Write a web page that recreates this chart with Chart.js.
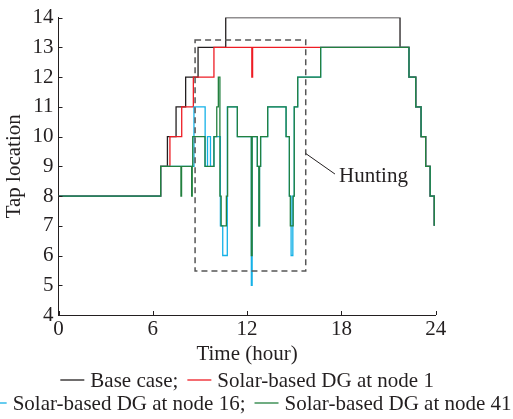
<!DOCTYPE html>
<html>
<head>
<meta charset="utf-8">
<script src="https://cdn.jsdelivr.net/npm/chart.js@4.4.1/dist/chart.umd.min.js"></script>
<style>
  html, body { margin: 0; padding: 0; background: #fff; }
  .chart-container { position: relative; width: 513px; height: 419px; }
</style>
</head>
<body>
<div class="chart-container">
  <canvas id="tapChart" width="513" height="419"></canvas>
</div>
<script>
// tap position steps: [time (hour), tap]
const endSteps = [[22.30, 12], [22.73, 11], [23.07, 10], [23.36, 9], [23.65, 8], [23.91, 7]]

const baseCase = [[0, 8], [6.50, 9], [6.93, 10], [7.48, 11], [8.09, 12], [8.88, 13], [10.64, 14], [21.73, 13]]

const dgNode1 = [[0, 8], [6.50, 9], [7.09, 10], [7.84, 11], [8.58, 12], [9.89, 13], [12.30, 12], [12.35, 13]]

const dgNode16 = [[0, 8], [6.50, 9], [8.62, 11], [9.33, 9], [9.48, 10], [9.67, 9], [9.89, 10],
  [10.30, 7], [10.45, 6], [10.74, 11], [11.38, 10], [12.27, 5], [12.32, 10], [12.65, 9],
  [12.75, 7], [12.79, 9], [12.86, 10], [13.31, 11], [14.48, 10], [14.69, 8], [14.80, 6],
  [14.91, 8], [15.00, 11], [15.22, 12], [16.68, 13]]

const dgNode41 = [[0, 8], [6.50, 9], [7.79, 8], [7.83, 9], [8.47, 8], [8.51, 9], [8.54, 10],
  [9.32, 9], [9.89, 10], [10.07, 11], [10.17, 12], [10.27, 8], [10.35, 7], [10.68, 8],
  [10.76, 11], [11.38, 10], [12.27, 6], [12.32, 10], [12.65, 9], [12.75, 7], [12.79, 9],
  [12.86, 10], [13.31, 11], [14.48, 10], [14.69, 8], [14.75, 7], [14.93, 8], [15.00, 11],
  [15.22, 12], [16.68, 13]]

const seriesNames = ['Base case', 'Solar-based DG at node 1', 'Solar-based DG at node 16', 'Solar-based DG at node 41']
const timeTicks = [0, 6, 12, 18, 24]
const tapTicks = [4, 5, 6, 7, 8, 9, 10, 11, 12, 13, 14]

// hunting region: [time from, time to], [tap low, tap high]
const huntingTime = [8.69, 15.73]
const huntingTap = [5.48, 13.25]
const huntingLabel = 'Hunting'

const FONT = "'Liberation Serif', 'Times New Roman', serif"
const INK = '#231f20'

const toPoints = arr => arr.concat(endSteps).map(p => ({x: p[0], y: p[1]}))

const lineSet = (label, arr, color, order) => ({
  label: label,
  data: toPoints(arr),
  borderColor: color,
  backgroundColor: color,
  borderWidth: 1.3,
  stepped: 'before',
  pointRadius: 0,
  fill: false,
  order: order
})

const decorations = {
  id: 'decorations',
  afterDraw(chart) {
    const {ctx} = chart
    const x = chart.scales.x
    const y = chart.scales.y
    ctx.save()

    // inward tick marks
    ctx.strokeStyle = INK
    ctx.lineWidth = 1
    timeTicks.forEach(t => {
      const px = Math.round(x.getPixelForValue(t)) + 0.5
      ctx.beginPath(); ctx.moveTo(px, y.bottom); ctx.lineTo(px, y.bottom - 4); ctx.stroke()
    })
    tapTicks.forEach(t => {
      const py = Math.round(y.getPixelForValue(t)) + 0.5
      ctx.beginPath(); ctx.moveTo(x.left, py); ctx.lineTo(x.left + 4, py); ctx.stroke()
    })

    // dashed hunting box
    const bx0 = x.getPixelForValue(huntingTime[0])
    const bx1 = x.getPixelForValue(huntingTime[1])
    const by0 = y.getPixelForValue(huntingTap[1])
    const by1 = y.getPixelForValue(huntingTap[0])
    ctx.strokeStyle = '#555'
    ctx.lineWidth = 1.5
    ctx.setLineDash([6, 4])
    ctx.strokeRect(bx0, by0, bx1 - bx0, by1 - by0)
    ctx.setLineDash([])

    // leader line + label
    ctx.strokeStyle = INK
    ctx.lineWidth = 1
    ctx.beginPath()
    ctx.moveTo(bx1, y.getPixelForValue(9.43))
    ctx.lineTo(x.getPixelForValue(17.59), y.getPixelForValue(8.74))
    ctx.stroke()
    ctx.fillStyle = INK
    ctx.font = '21px ' + FONT
    ctx.textBaseline = 'alphabetic'
    ctx.textAlign = 'left'
    ctx.fillText(huntingLabel, x.getPixelForValue(17.85), y.getPixelForValue(8.46))

    // legend, two rows centred under the plot
    const sets = chart.data.datasets
    const rows = [[0, 1], [2, 3]]
    const rowBase = [387, 410]
    const center = (x.left + x.right) / 2
    rows.forEach((row, r) => {
      const items = row.map((i, k) => {
        const text = sets[i].label + (k < row.length - 1 ? ';' : '')
        return {text, color: sets[i].borderColor, w: ctx.measureText(text).width}
      })
      const total = items.reduce((s, it) => s + 24 + 6 + it.w, 0) + 9 * (items.length - 1)
      let cx = center - total / 2
      items.forEach(it => {
        ctx.strokeStyle = it.color
        ctx.lineWidth = 1.3
        ctx.beginPath()
        ctx.moveTo(cx, rowBase[r] - 7)
        ctx.lineTo(cx + 24, rowBase[r] - 7)
        ctx.stroke()
        cx += 30
        ctx.fillStyle = INK
        ctx.fillText(it.text, cx, rowBase[r])
        cx += it.w + 9
      })
    })
    ctx.restore()
  }
}

new Chart(document.getElementById('tapChart'), {
  type: 'line',
  data: {
    datasets: [
      lineSet(seriesNames[0], baseCase, INK, 4),
      lineSet(seriesNames[1], dgNode1, '#ee1c24', 3),
      lineSet(seriesNames[2], dgNode16, '#14b1e7', 2),
      lineSet(seriesNames[3], dgNode41, '#23803f', 1)
    ]
  },
  options: {
    responsive: false,
    animation: false,
    layout: {
      padding: {top: 16, right: 77.3, bottom: 52.4, left: 0}
    },
    plugins: {
      legend: {display: false},
      tooltip: {enabled: false}
    },
    scales: {
      x: {
        type: 'linear',
        min: 0,
        max: 24,
        afterBuildTicks: s => { s.ticks = timeTicks.map(v => ({value: v})) },
        afterFit: s => { s.height = 51.6 },
        grid: {display: false, drawTicks: false},
        border: {display: true, color: INK, width: 1},
        ticks: {color: INK, font: {family: FONT, size: 21}, padding: 2, maxRotation: 0},
        title: {display: true, text: 'Time (hour)', color: INK, font: {family: FONT, size: 21}, padding: {top: 0, bottom: 0}}
      },
      y: {
        type: 'linear',
        min: 4,
        max: 14,
        afterBuildTicks: s => { s.ticks = tapTicks.map(v => ({value: v})) },
        afterFit: s => { s.width = 58.5 },
        grid: {display: false, drawTicks: false},
        border: {display: true, color: INK, width: 1},
        ticks: {color: INK, font: {family: FONT, size: 21}, padding: 5},
        title: {display: true, text: 'Tap location', color: INK, font: {family: FONT, size: 21}, padding: {top: 2, bottom: 0}}
      }
    }
  },
  plugins: [decorations]
})
</script>
</body>
</html>
